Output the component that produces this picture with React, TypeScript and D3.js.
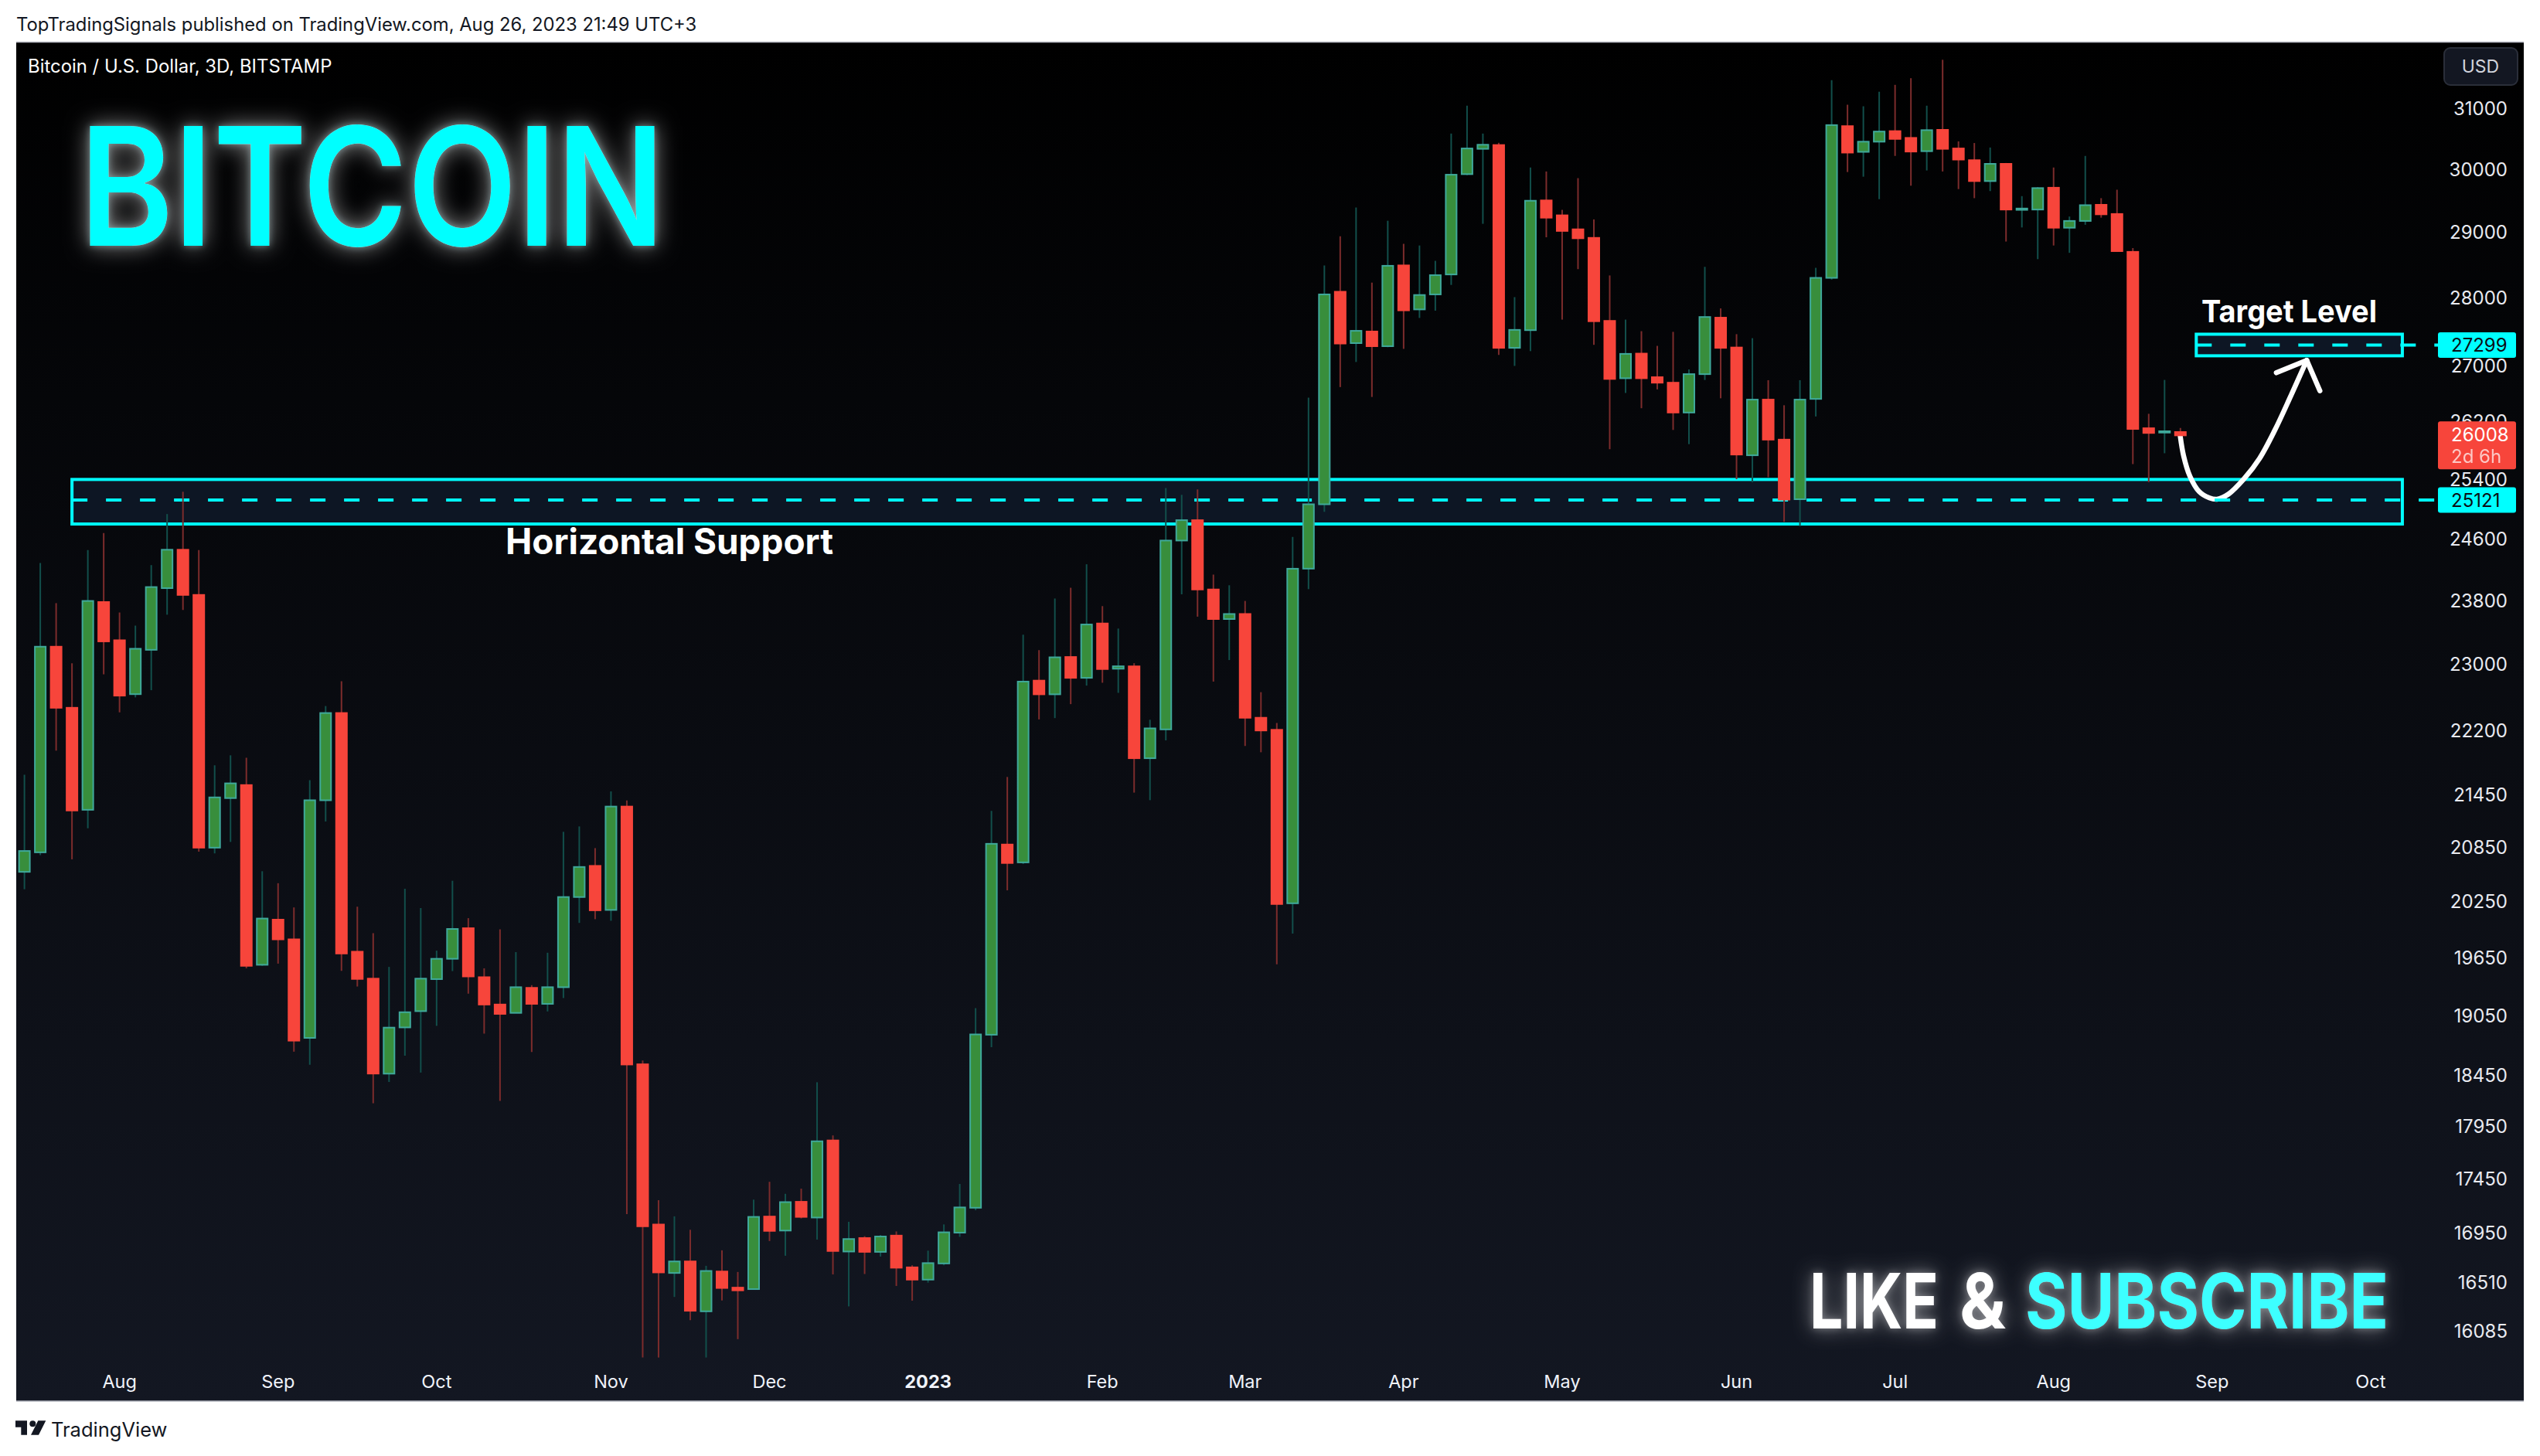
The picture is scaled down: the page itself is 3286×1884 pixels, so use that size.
import { useEffect, useRef } from "react";
import * as d3 from "d3";

const opens = [20577,20794,23220,22471,21274,23783,23300,22636,23181,23961,24460,23874,20846,21408,21558,19576,20056,19845,18823,21383,22408,19714,19431,18465,18929,19095,19426,19639,19964,19446,19163,19077,19335,19170,19342,20301,20643,20161,21311,18558,17029,16592,16695,16254,16605,16462,16449,17102,16974,17238,17093,17815,16784,16906,16781,16928,16642,16533,16677,16955,17183,18855,20881,20682,22801,22634,23092,22835,23511,22947,22976,21871,22212,24581,24851,23944,23567,23631,22351,22207,20233,24213,25064,28092,27328,27499,27283,28492,27827,28052,28354,29922,30331,30393,27259,27519,29503,29268,29049,28916,27656,26818,27175,26833,26754,26329,26877,27704,27264,25732,26512,25949,25132,26522,28302,30703,30282,30448,30621,30510,30293,30642,30337,30147,29811,30088,29354,29359,29705,29074,29180,29434,29289,28700,26108,26047,26055];
const highs = [21678,24287,23769,23014,24456,24680,23650,23484,24259,24933,25233,24456,21788,21905,21876,20584,20452,20188,21614,22492,22794,20196,19911,19554,20391,20181,19725,20479,20072,19539,19952,19710,19363,19703,21024,21085,20841,21485,21380,18595,17253,17104,16981,16656,16795,16601,17258,17424,17312,17360,18380,17863,17054,16923,16934,16966,16661,16792,17030,17404,19126,21262,21652,23369,23177,23828,23966,24270,23731,23447,23015,22327,25284,25191,25265,24136,23998,23797,22660,22289,24628,26540,28492,28941,29391,28230,29183,28824,28798,28562,30581,31042,30581,30431,28011,30029,29965,29354,29858,29204,28339,27675,27504,27288,27494,26945,28470,27842,27460,27401,26790,26432,26790,28455,31469,31058,31032,31275,31391,31503,31042,31816,30453,30426,30353,30102,29571,29715,30029,29249,30216,29539,29673,28757,26311,26794,26112];
const lows = [20386,20763,21960,20716,21064,22878,22416,22597,22684,23622,23682,20802,20782,20910,19539,19565,19588,18684,18553,21141,19513,19349,18174,18383,18644,18476,18945,19510,19275,18866,18197,19077,18681,19092,19230,20021,20061,20044,17124,15856,15856,16380,16177,15856,16349,16013,16446,16879,16746,17085,16892,16579,16297,16583,16739,16477,16347,16506,16661,16917,17160,18729,20374,20663,22331,22347,22515,22740,22775,22652,21471,21384,22081,23882,23597,22789,23054,22015,21941,19581,19907,23948,24964,26691,27053,26550,27268,27244,27700,27808,28195,29906,29135,27156,26996,27211,28925,27675,28435,27303,25816,26607,26390,26658,26084,25886,26793,26531,25403,25362,25430,24829,24771,26273,28277,29956,29881,29523,30216,29737,29981,29965,29683,29539,29651,28859,29078,28588,28798,28685,29120,29231,28706,25610,25362,25760,26008];
const closes = [20809,23220,22471,21266,23797,23286,22618,23194,23975,24460,23874,20846,21416,21578,19565,20068,19845,18795,21383,22408,19695,19428,18466,18927,19084,19431,19639,19956,19454,19163,19067,19342,19170,19342,20301,20631,20157,21311,18556,17013,16597,16695,16259,16610,16459,16438,17099,16971,17235,17099,17807,16789,16897,16781,16920,16639,16533,16680,16958,17186,18858,20889,20675,22789,22634,23088,22835,23498,22943,22977,21871,22224,24581,24851,23944,23567,23631,22351,22199,20225,24212,25064,28052,27322,27509,27283,28486,27813,28043,28343,29913,30337,30398,27259,27523,29498,29231,29024,28910,27651,26808,27171,26818,26754,26329,26877,27714,27259,25742,26512,25949,25127,26512,28302,30720,30270,30448,30614,30493,30287,30637,30331,30157,29811,30088,29359,29375,29699,29074,29180,29428,29284,28711,26098,26042,26066,26008];

const priceTicks = [31000,30000,29000,28000,27000,26200,25400,24600,23800,23000,22200,21450,20850,20250,19650,19050,18450,17950,17450,16950,16510,16085];
const monthBars = [6,16,26,37,47,57,68,77,87,97,108,118,128,138,148];
const monthLabels = ["Aug","Sep","Oct","Nov","Dec","2023","Feb","Mar","Apr","May","Jun","Jul","Aug","Sep","Oct"];

const supportLevel = 25121;
const supportZone = { bars: [3, 150], prices: [25400, 24800] };
const targetLevel = 27299;
const targetZone = { bars: [137, 150], prices: [27459, 27143] };
const lastPrice = 26008;

// hand drawn arrow, in bar index / price
const arrowBars = [135.99,136.2,136.6,137.18,137.83,138.31,139.04,140.02,141.0,141.97,142.95,143.97];
const arrowPrices = [25997,25726,25444,25236,25150,25132,25202,25410,25691,26087,26558,27077];
const arrowHeadBars = [142.05,143.97,144.8];
const arrowHeadPrices = [26897,27077,26637];

const WIDTH = 3286;
const HEIGHT = 1884;
const UI_FONT = "Inter, 'Noto Sans', sans-serif";

export default function App() {
  const svgRef = useRef<SVGSVGElement>(null);

  useEffect(() => {
    if (!svgRef.current) return;
    const svg = d3.select(svgRef.current);
    svg.selectAll("*").remove();

    const left = 21, right = 3265, top = 54, bottom = 1813;
    const x = d3.scaleLinear().domain([0, 136]).range([31.6, 2820.8]);
    const y = d3.scaleLog().domain([31000, 16085]).range([140, 1722]);

    const defs = svg.append("defs");
    const grad = defs.append("linearGradient").attr("id", "bg").attr("x1", 0).attr("x2", 0).attr("y1", 0).attr("y2", 1);
    grad.append("stop").attr("offset", "0%").attr("stop-color", "#000000");
    grad.append("stop").attr("offset", "100%").attr("stop-color", "#131722");

    const glow = (id: string, wide: number, near: number, color: string, amount: number, nearAmount: number) => {
      const f = defs.append("filter").attr("id", id)
        .attr("x", "-15%").attr("y", "-50%").attr("width", "130%").attr("height", "200%");
      f.append("feGaussianBlur").attr("in", "SourceAlpha").attr("stdDeviation", wide).attr("result", "b1");
      f.append("feFlood").attr("flood-color", "#ffffff").attr("flood-opacity", amount).attr("result", "c1");
      f.append("feComposite").attr("in", "c1").attr("in2", "b1").attr("operator", "in").attr("result", "g1");
      f.append("feGaussianBlur").attr("in", "SourceAlpha").attr("stdDeviation", near).attr("result", "b2");
      f.append("feFlood").attr("flood-color", color).attr("flood-opacity", nearAmount).attr("result", "c2");
      f.append("feComposite").attr("in", "c2").attr("in2", "b2").attr("operator", "in").attr("result", "g2");
      const m = f.append("feMerge");
      m.append("feMergeNode").attr("in", "g1");
      m.append("feMergeNode").attr("in", "g2");
      m.append("feMergeNode").attr("in", "SourceGraphic");
    };
    glow("glowCyan", 15, 5, "#bffcff", 0.55, 0.4);
    glow("glowWhite", 13, 5, "#ffffff", 0.5, 0.3);

    svg.append("rect").attr("width", WIDTH).attr("height", HEIGHT).attr("fill", "#ffffff");
    svg.append("rect").attr("x", left).attr("y", top).attr("width", right - left).attr("height", bottom - top)
      .attr("fill", "url(#bg)");
    svg.append("path").attr("d", `M${left},${top + 0.5}H${right}M${left},${bottom}H${right}`)
      .attr("stroke", "#b2b5be").attr("stroke-width", 1.5).attr("fill", "none");

    // page header and footer
    svg.append("text").attr("x", 21).attr("y", 40).attr("font-family", UI_FONT).attr("font-size", 23.8)
      .attr("fill", "#131722").text("TopTradingSignals published on TradingView.com, Aug 26, 2023 21:49 UTC+3");
    svg.append("path").attr("d", "M20,1838.3H35V1856.7H27.3V1846.7H20Z M49.3,1838.3H59.3L50,1856.7H40Z").attr("fill", "#131722");
    svg.append("circle").attr("cx", 42.3).attr("cy", 1842.3).attr("r", 4).attr("fill", "#131722");
    svg.append("text").attr("x", 66).attr("y", 1858.5).attr("font-family", UI_FONT).attr("font-size", 25.5)
      .attr("fill", "#131722").text("TradingView");

    svg.append("text").attr("x", 36).attr("y", 94).attr("font-family", UI_FONT).attr("font-size", 23.9)
      .attr("fill", "#ffffff").text("Bitcoin / U.S. Dollar, 3D, BITSTAMP");

    // zones
    const zoneColor = "#00ffff";
    [supportZone, targetZone].forEach((z) => {
      svg.append("rect")
        .attr("x", x(z.bars[0])).attr("y", y(z.prices[0]))
        .attr("width", x(z.bars[1]) - x(z.bars[0])).attr("height", y(z.prices[1]) - y(z.prices[0]))
        .attr("fill", "#0d1624").attr("stroke", zoneColor).attr("stroke-width", 4);
    });

    // hand drawn arrow
    const arrowLine = d3.line<number>()
      .x((d) => x(arrowBars[d]))
      .y((d) => y(arrowPrices[d]))
      .curve(d3.curveCatmullRom);
    const headLine = d3.line<number>()
      .x((d) => x(arrowHeadBars[d]))
      .y((d) => y(arrowHeadPrices[d]));
    svg.append("path").attr("d", arrowLine(d3.range(arrowBars.length)))
      .attr("fill", "none").attr("stroke", "#ffffff").attr("stroke-width", 6.5).attr("stroke-linecap", "round");
    svg.append("path").attr("d", headLine(d3.range(arrowHeadBars.length)))
      .attr("fill", "none").attr("stroke", "#ffffff").attr("stroke-width", 6.5)
      .attr("stroke-linecap", "round").attr("stroke-linejoin", "round");

    // dashed levels run on to the price labels
    const axisLeft = 3154;
    [[supportLevel, supportZone.bars[0]], [targetLevel, targetZone.bars[0]]].forEach(([level, bar]) => {
      svg.append("line")
        .attr("x1", x(bar)).attr("x2", axisLeft)
        .attr("y1", y(level)).attr("y2", y(level))
        .attr("stroke", zoneColor).attr("stroke-width", 4).attr("stroke-dasharray", "20 24");
    });

    // candles
    const bars = d3.range(opens.length);
    const candle = svg.append("g").selectAll("g").data(bars).enter().append("g");
    candle.append("line")
      .attr("x1", (i) => x(i)).attr("x2", (i) => x(i))
      .attr("y1", (i) => y(highs[i])).attr("y2", (i) => y(lows[i]))
      .attr("stroke", (i) => (closes[i] >= opens[i] ? "#124f4b" : "#7c2c2c"))
      .attr("stroke-width", 2);
    candle.append("rect")
      .attr("x", (i) => x(i) - 7)
      .attr("width", 14)
      .attr("y", (i) => y(Math.max(opens[i], closes[i])))
      .attr("height", (i) => Math.max(1, y(Math.min(opens[i], closes[i])) - y(Math.max(opens[i], closes[i]))))
      .attr("fill", (i) => (closes[i] >= opens[i] ? "#388e3c" : "#f7453b"))
      .attr("stroke", (i) => (closes[i] >= opens[i] ? "#3fa99b" : "#f7453b"))
      .attr("stroke-width", 2);

    // time axis
    svg.append("g").selectAll("text").data(monthLabels).enter().append("text")
      .attr("x", (_, i) => x(monthBars[i]))
      .attr("y", 1796)
      .attr("text-anchor", "middle")
      .attr("font-family", UI_FONT)
      .attr("font-size", 23.5)
      .attr("font-weight", (d) => (d === "2023" ? 700 : 400))
      .attr("fill", "#f0f3fa")
      .text((d) => d);

    // price axis
    const tickRight = 3244;
    svg.append("g").selectAll("text").data(priceTicks).enter().append("text")
      .attr("x", tickRight)
      .attr("y", (d) => y(d))
      .attr("dy", "0.36em")
      .attr("text-anchor", "end")
      .attr("font-family", UI_FONT)
      .attr("font-size", 24)
      .attr("fill", "#e8eaf0")
      .text((d) => String(d));

    // price labels
    const labelBox = (cy: number, h: number, fill: string) =>
      svg.append("rect").attr("x", axisLeft).attr("y", cy - h / 2).attr("width", 101).attr("height", h)
        .attr("rx", 3).attr("fill", fill);
    const labelText = (cy: number, t: string, fill: string, op = 1) =>
      svg.append("text").attr("x", 3171).attr("y", cy).attr("dy", "0.36em").attr("font-family", UI_FONT)
        .attr("font-size", 24).attr("fill", fill).attr("opacity", op).text(t);
    labelBox(y(targetLevel), 33, zoneColor);
    labelText(y(targetLevel), String(targetLevel), "#0b0e14");
    labelBox(y(supportLevel), 33, zoneColor);
    labelText(y(supportLevel), String(supportLevel), "#0b0e14");
    labelBox(y(lastPrice) + 13, 62, "#f7453b");
    labelText(y(lastPrice) - 1, String(lastPrice), "#ffffff");
    labelText(y(lastPrice) + 27, "2d 6h", "#ffffff", 0.7);

    // currency button
    svg.append("rect").attr("x", 3162).attr("y", 62).attr("width", 95).attr("height", 48).attr("rx", 8)
      .attr("fill", "#131722").attr("stroke", "#2a2e39").attr("stroke-width", 2);
    svg.append("text").attr("x", 3209).attr("y", 86).attr("dy", "0.36em").attr("text-anchor", "middle")
      .attr("font-family", UI_FONT).attr("font-size", 23).attr("fill", "#d1d4dc").text("USD");

    // overlay text
    svg.append("text").attr("x", 103).attr("y", 318).attr("font-family", "Inter, sans-serif")
      .attr("font-size", 213).attr("font-weight", 600).attr("fill", "#00ffff")
      .attr("textLength", 757).attr("lengthAdjust", "spacingAndGlyphs")
      .attr("filter", "url(#glowCyan)").text("BITCOIN");

    const note = (tx: number, ty: number, size: number, len: number, t: string) =>
      svg.append("text").attr("x", tx).attr("y", ty).attr("font-family", "Inter, sans-serif")
        .attr("font-size", size).attr("font-weight", 700).attr("fill", "#ffffff")
        .attr("textLength", len).attr("lengthAdjust", "spacingAndGlyphs").text(t);
    note(654, 717, 46, 424, "Horizontal Support");
    note(2848, 417, 40, 227, "Target Level");

    const promo = svg.append("g").attr("filter", "url(#glowWhite)")
      .attr("font-family", "Inter, sans-serif").attr("font-size", 99).attr("font-weight", 700);
    promo.append("text").attr("x", 2341).attr("y", 1719).attr("fill", "#ffffff")
      .attr("textLength", 167).attr("lengthAdjust", "spacingAndGlyphs").text("LIKE");
    promo.append("text").attr("x", 2535).attr("y", 1719).attr("fill", "#ffffff")
      .attr("textLength", 60).attr("lengthAdjust", "spacingAndGlyphs").text("&");
    promo.append("text").attr("x", 2620).attr("y", 1719).attr("fill", "#3dffff")
      .attr("textLength", 470).attr("lengthAdjust", "spacingAndGlyphs").text("SUBSCRIBE");
  }, []);

  return (
    <svg
      ref={svgRef}
      width={WIDTH}
      height={HEIGHT}
      style={{ position: "absolute", left: 0, top: 0, display: "block" }}
    />
  );
}
